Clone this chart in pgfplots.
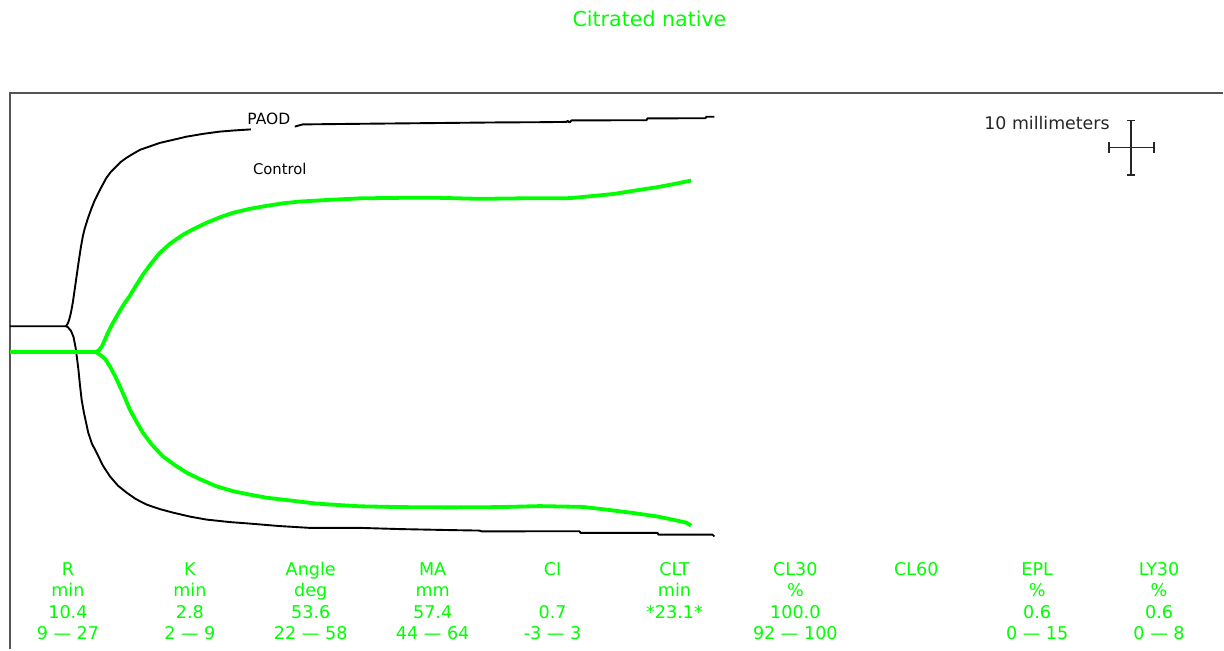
\documentclass[border=0pt]{standalone}
\usepackage{pgfplots}
\pgfplotsset{compat=1.18}
\usepackage{fontspec}
\setmainfont{DejaVu Sans}
\definecolor{tegG}{RGB}{0,255,0}
\definecolor{frameC}{RGB}{85,85,85}
\tikzset{lab/.style={font=\fontsize{17.6}{21}\selectfont, text=tegG, anchor=base, inner sep=0pt}}
\newcommand\col[5]{%
  \node[lab] at (axis cs:#1,575.7) {#2};
  \node[lab] at (axis cs:#1,597.2) {#3};
  \node[lab] at (axis cs:#1,618.7) {#4};
  \node[lab] at (axis cs:#1,640.2) {#5};
}
\begin{document}
\begin{tikzpicture}
\begin{axis}[scale only axis, width=1224pt, height=650pt,
  xmin=0, xmax=1224, ymin=0, ymax=650, y dir=reverse,
  hide axis, clip=false]
\path (axis cs:0,0) rectangle (axis cs:1224,650);
% frame
\addplot[frameC, line width=2pt, line join=miter] coordinates {(10,650) (10,93.3) (1224,93.3)};
% PAOD (black)
\addplot[black, line width=1.9pt, line join=round] coordinates {
(10,326.5) (66,326.5) (68,323.5) (69.5,319) (71,313) (73,302) (75,288) (77,274) (79,260) (81,247) (83,236) (85,228) (88,218.5) (91,210) (95,200) (100,190) (106.5,178) (111,172) (116.5,166.5) (121,162) (126.5,158) (133,154) (140,150) (150,146.5) (160,143) (173,140) (187,136.7) (203,134) (220,131.7) (235,130.5) (251,129.5)};
\addplot[black, line width=1.9pt, line join=round] coordinates {
(295,126.7) (303,124.5) (350,124) (400,123.5) (450,123) (500,122.5) (540,122.3) (567,122) (568,121) (570,122.5) (572,120.5) (647,120.3) (648,118.5) (706,118.3) (707,116.8) (715,116.8)};
\addplot[black, line width=1.9pt, line join=round] coordinates {
(66,326.5) (68,327.5) (71,331) (73.5,337) (75.5,347) (77,358) (78.5,370) (80,385) (81.7,400) (84,413) (88.3,433) (92,444) (96.7,453) (103,466) (110,476.7) (118,486) (126.7,493) (136,499.5) (146.7,505) (160,509.5) (173,513) (190,517) (206.7,520) (230,522.5) (250,524) (280,526.5) (310,528.3) (360,528.3) (400,529.5) (450,530.5) (480,531) (482,531.8) (540,531.7) (580,531.7) (581,533.3) (658,533.3) (659,535) (713,535) (715,537)};
% Control (green)
\addplot[tegG, line width=3.8pt, line join=round] coordinates {
(10,352.3) (96,352.3) (99,350.5) (102,346.5) (105,340) (108,333) (112,325) (116,318) (120,311) (125,303) (130,296) (136,286) (143,275) (151,264) (160,253) (170,244) (183,235) (195,228.5) (206.7,223) (220,217.5) (233,213) (250,209) (266.7,206) (283,203.5) (300,201.7) (330,200) (360,198.5) (400,198) (440,198) (480,199) (520,198.5) (570,198.3) (595,196) (615,194) (640,190) (656.7,187.5) (673,184.5) (691.7,180.7)};
\addplot[tegG, line width=3.8pt, line join=round] coordinates {
(96,352.3) (100,355) (105,359) (110,366.7) (115,376) (120,386.7) (125,398) (130,410) (136,421) (143,433) (152,445) (163,456.7) (175,465.5) (186.7,473) (200,479.5) (216.7,486.7) (233,491.5) (250,495) (266,498) (283,500) (300,502) (316.7,504) (340,505.5) (360,506.7) (400,507.5) (450,507.8) (500,507.5) (540,506.5) (583,507.3) (606.7,510) (633,513.3) (656.7,516.7) (673,520) (686.7,523) (691.7,526)};
% labels
\node[font=\fontsize{20.6}{24}\selectfont, text=tegG, anchor=base, inner sep=0pt] at (axis cs:650,26.7) {Citrated native};
\node[font=\fontsize{15.5}{18}\selectfont, anchor=base, inner sep=0pt] at (axis cs:269,125) {PAOD};
\node[font=\fontsize{14.8}{18}\selectfont, anchor=base, inner sep=0pt] at (axis cs:280,175) {Control};
\node[font=\fontsize{17.4}{20}\selectfont, text=black!85, anchor=base west, inner sep=0pt] at (axis cs:985,129.8) {10 millimeters};
% scale cross
\draw[black!85, line width=1.5pt] (axis cs:1131.7,120.7) -- (axis cs:1131.7,175);
\draw[black!85, line width=1.5pt] (axis cs:1128,120.7) -- (axis cs:1135.5,120.7);
\draw[black!85, line width=1.5pt] (axis cs:1128,175) -- (axis cs:1135.5,175);
\draw[black!85, line width=1.5pt] (axis cs:1110,147.7) -- (axis cs:1155,147.7);
\draw[black!85, line width=1.5pt] (axis cs:1110,141.7) -- (axis cs:1110,153.3);
\draw[black!85, line width=1.5pt] (axis cs:1155,141.7) -- (axis cs:1155,153.3);
% bottom parameter table
\col{68}{R}{min}{10.4}{9 — 27}
\col{190}{K}{min}{2.8}{2 — 9}
\col{311}{Angle}{deg}{53.6}{22 — 58}
\col{433}{MA}{mm}{57.4}{44 — 64}
\col{553}{CI}{}{0.7}{-3 — 3}
\col{675}{CLT}{min}{*23.1*}{}
\col{796}{CL30}{\%}{100.0}{92 — 100}
\col{917}{CL60}{}{}{}
\col{1038}{EPL}{\%}{0.6}{0 — 15}
\col{1160}{LY30}{\%}{0.6}{0 — 8}
\end{axis}
\end{tikzpicture}
\end{document}
